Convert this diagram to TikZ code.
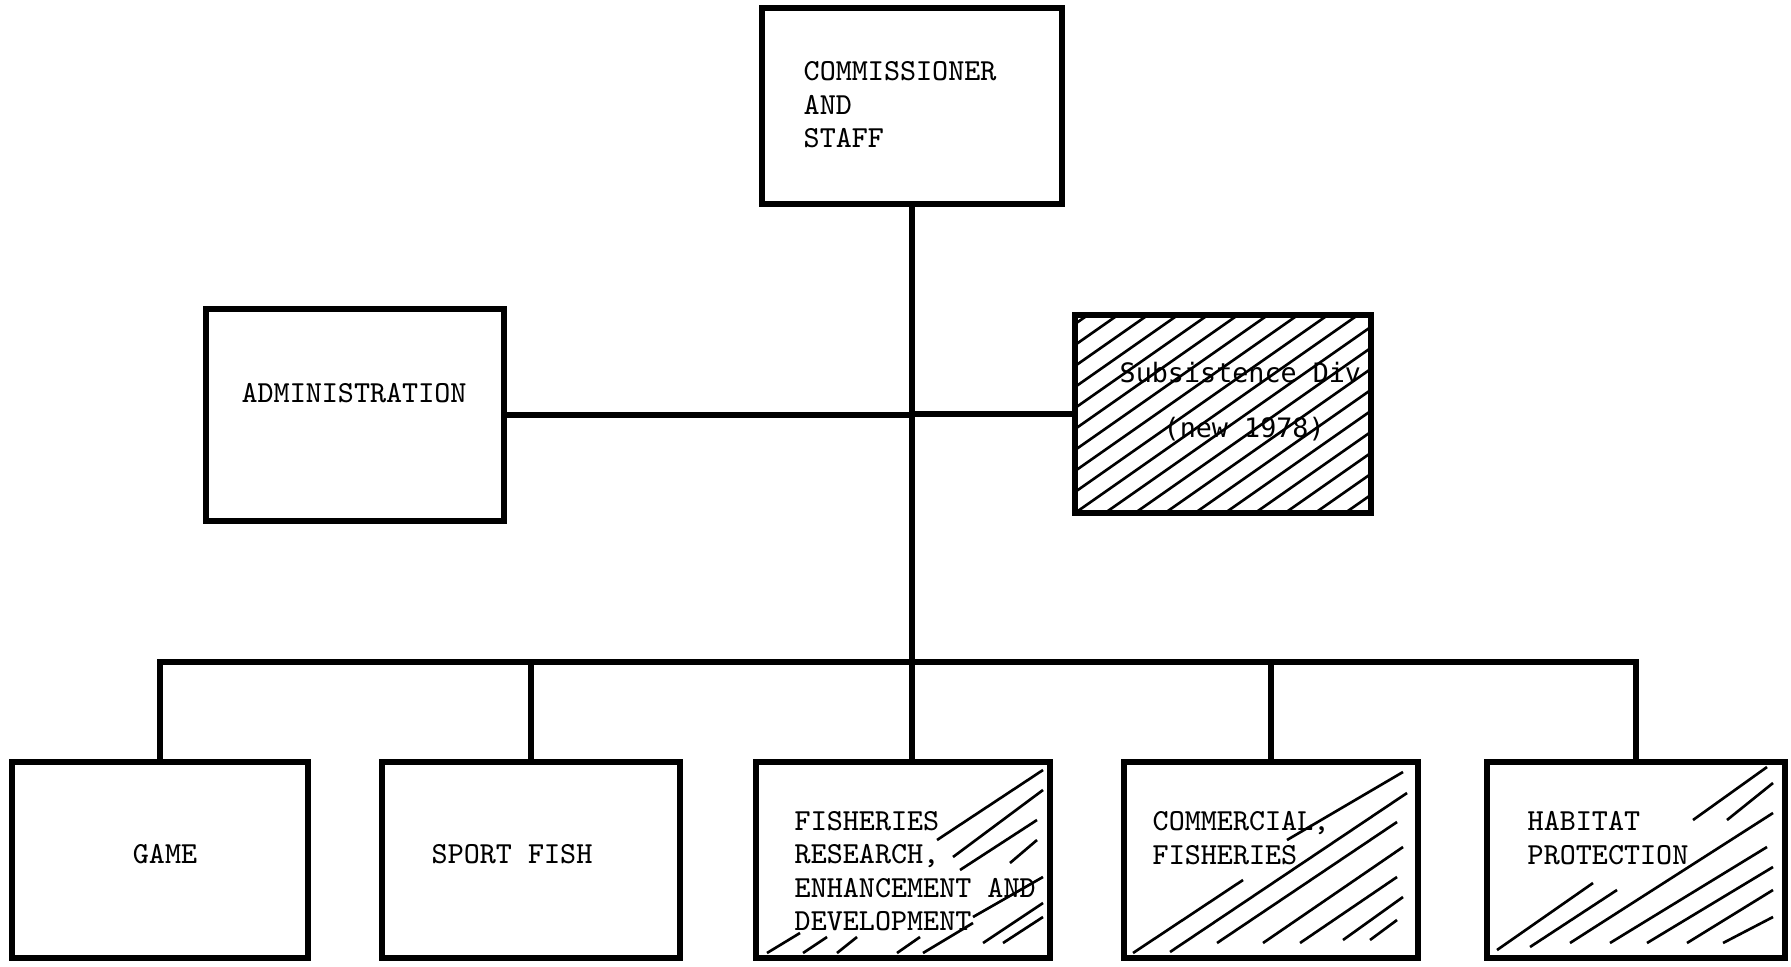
\documentclass[tikz,border=0pt]{standalone}
\usepackage{fontspec}
\newfontfamily\subsfont{DejaVu Sans Mono}
\usetikzlibrary{positioning}
\begin{document}
\begin{tikzpicture}[x=0.01cm,y=-0.01cm,
  orgbox/.style={draw,line width=1.7pt,inner sep=0pt},
  orgline/.style={line width=1.6pt},
  hatchline/.style={line width=.75pt},
  every node/.style={font=\fontsize{8.7}{9.5}\selectfont\ttfamily}]
\useasboundingbox (0,0) rectangle (1791,967);
% boxes
\node[orgbox,minimum width=3cm,minimum height=1.96cm] (comm) at (912,106) {};
\node[orgbox,minimum width=2.98cm,minimum height=2.11cm] (admin) at (355,415) {};
\node[orgbox,minimum width=2.96cm,minimum height=1.98cm] (subs) at (1223,414) {};
\node[orgbox,minimum width=2.96cm,minimum height=1.95cm] (game) at (160,860) {};
\node[orgbox,minimum width=2.97cm,minimum height=1.95cm] (sport) at (531,860) {};
\node[orgbox,minimum width=2.93cm,minimum height=1.95cm] (fish) at (903,860) {};
\node[orgbox,minimum width=2.94cm,minimum height=1.95cm] (comf) at (1271,860) {};
\node[orgbox,minimum width=2.98cm,minimum height=1.95cm] (hab) at (1636,860) {};
% hatching
\begin{scope}
\clip ([shift={(6,6)}]subs.north west) rectangle ([shift={(-6,-6)}]subs.south east);
\foreach \x in {735,765,...,1400}
  \draw[hatchline] (\x,520) -- ++(350,-245);
\end{scope}
\foreach \xa/\ya/\xb/\yb in {937/840/1043/770, 953/857/1043/790, 960/870/1037/820,
    1010/863/1037/840, 973/917/1043/877, 983/943/1043/903, 1003/943/1043/917,
    767/953/800/933, 803/953/827/937, 837/953/857/937, 897/953/920/937, 923/953/973/923}
  \draw[hatchline] (\xa,\ya) -- (\xb,\yb);
\foreach \xa/\ya/\xb/\yb in {1133/953/1243/880, 1287/840/1403/772, 1170/952/1407/793,
    1217/943/1397/822, 1263/943/1403/847, 1300/943/1397/877, 1343/940/1403/897,
    1370/940/1397/920}
  \draw[hatchline] (\xa,\ya) -- (\xb,\yb);
\foreach \xa/\ya/\xb/\yb in {1693/820/1767/767, 1727/820/1773/783, 1497/950/1593/883,
    1530/947/1617/890, 1570/943/1773/813, 1610/943/1767/847, 1647/943/1773/867,
    1687/943/1773/890, 1723/943/1773/917}
  \draw[hatchline] (\xa,\ya) -- (\xb,\yb);
% labels
\node[anchor=west,align=left,inner sep=0pt] (commtxt) at (803,105) {COMMISSIONER\\AND\\STAFF};
\node[inner sep=0pt] (admintxt) at (354,393) {ADMINISTRATION};
\node[anchor=west,inner sep=0pt,font=\fontsize{7.6}{9}\selectfont\subsfont] (substxt) at (1119,373) {Subsistence Div};
\node[anchor=west,inner sep=0pt,font=\fontsize{7.6}{9}\selectfont\subsfont] (yeartxt) at (1163,429) {(new 1978)};
\node[inner sep=0pt] (gametxt) at (165,854) {GAME};
\node[inner sep=0pt] (sporttxt) at (512,854) {SPORT FISH};
\node[anchor=west,align=left,inner sep=0pt] (fishtxt) at (794,871) {FISHERIES\\RESEARCH,\\ENHANCEMENT AND\\DEVELOPMENT};
\node[anchor=west,align=left,inner sep=0pt] (comftxt) at (1152,838) {COMMERCIAL,\\FISHERIES};
\node[anchor=west,align=left,inner sep=0pt] (habtxt) at (1527,838) {HABITAT\\PROTECTION};
% connectors
\coordinate (bus) at (912,662);
\draw[orgline] (comm.south) -- (comm.south |- fish.north);
\draw[orgline] (admin.east) -- (admin.east -| comm.south);
\draw[orgline] (subs.west) -- (subs.west -| comm.south);
\draw[orgline] (game.north) |- (bus) -| (hab.north);
\draw[orgline] (sport.north) -- (sport.north |- bus);
\draw[orgline] (comf.north) -- (comf.north |- bus);
\end{tikzpicture}
\end{document}
